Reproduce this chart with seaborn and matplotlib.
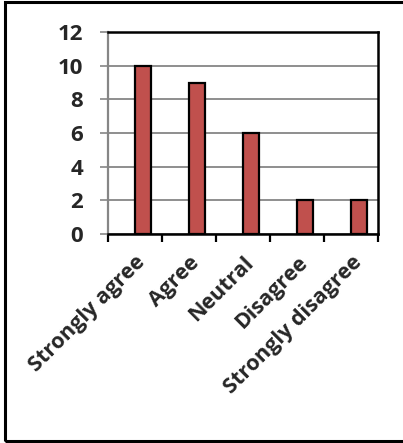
import matplotlib
matplotlib.use("Agg")
import matplotlib.pyplot as plt
from matplotlib.patches import Rectangle
from matplotlib.ticker import FixedLocator, NullFormatter
import seaborn as sns
import pandas as pd

categories = ["Strongly agree", "Agree", "Neutral", "Disagree", "Strongly disagree"]
counts = [10, 9, 6, 2, 2]
y_ticks = [0, 2, 4, 6, 8, 10, 12]

sns.set_style("white")
plt.rcParams["font.family"] = ["Open Sans", "DejaVu Sans"]
plt.rcParams["font.weight"] = "bold"

df = pd.DataFrame({"response": categories, "count": counts})

fig = plt.figure(figsize=(4.03, 4.43), dpi=100)
ax = fig.add_axes([108 / 403, (443 - 234) / 443, 270 / 403, 202 / 443])

sns.barplot(data=df, x="response", y="count", order=categories, width=0.3,
            color="#C0504D", edgecolor="black", linewidth=1.6, ax=ax, zorder=3,
            saturation=1)

n = len(categories)
ax.set_xlim(-0.65, n - 0.65)
ax.set_ylim(0, 12)
ax.set_yticks(y_ticks)
ax.set_yticklabels([str(v) for v in y_ticks], fontsize=16, fontweight="bold")

# category labels sit at the centre of each slot; tick marks at slot boundaries
ax.set_xticks([i - 0.15 for i in range(n)])
ax.set_xticklabels(categories, rotation=45, ha="right", va="top",
                   rotation_mode="anchor", fontsize=15.5, fontweight="bold")
ax.tick_params(axis="x", which="major", length=0, pad=13)
ax.xaxis.set_minor_locator(FixedLocator([i - 0.65 for i in range(n + 1)]))
ax.xaxis.set_minor_formatter(NullFormatter())
ax.tick_params(axis="x", which="minor", length=6, width=1.6, color="black",
               direction="out", bottom=True)
ax.tick_params(axis="y", length=6, width=1.2, color="#868686", pad=12,
               direction="out", left=True)

ax.set_xlabel("")
ax.set_ylabel("")
ax.yaxis.grid(True, color="#868686", linewidth=1.3, zorder=0)
ax.set_axisbelow(True)

for side in ["top", "right", "bottom"]:
    ax.spines[side].set_color("black")
    ax.spines[side].set_linewidth(1.8)
ax.spines["left"].set_color("#868686")
ax.spines["left"].set_linewidth(1.6)

# chart-area border
fig.patches.append(Rectangle((5 / 403, 2 / 443), 1.1, 439 / 443, transform=fig.transFigure,
                             fill=False, edgecolor="black", linewidth=2.2))

fig.savefig("out.png", dpi=100)
